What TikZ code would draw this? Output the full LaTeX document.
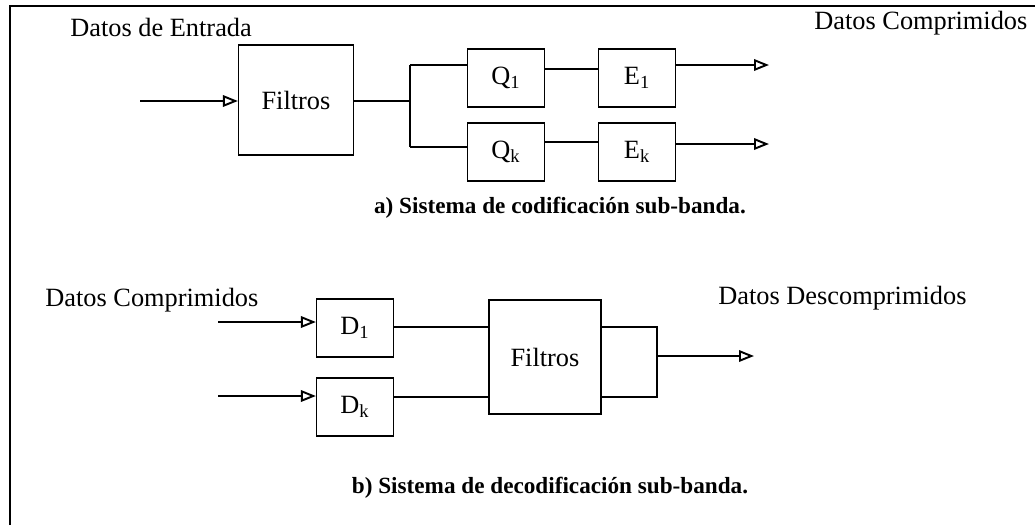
\documentclass[tikz,border=0pt]{standalone}
\usepackage{fontspec}
\setmainfont{Liberation Serif}
\usepackage{tikz}
\usetikzlibrary{arrows.meta, positioning, calc}

\begin{document}
\begin{tikzpicture}[
    x=0.02cm, y=-0.02cm,
    box/.style={rectangle, draw, line width=0.7pt, align=center, font=\fontsize{15}{18}\selectfont, minimum width=1.54cm, minimum height=1.16cm, inner sep=0pt},
    bigbox/.style={box, minimum width=2.3cm, minimum height=2.2cm},
    label/.style={inner sep=0pt, anchor=west, font=\fontsize{15}{18}\selectfont},
    caption/.style={inner sep=0pt, font=\fontsize{13.2}{16}\selectfont\bfseries},
    line/.style={line width=0.7pt},
    arrow/.style={line width=0.7pt, -{Triangle[open, length=3mm, width=2.3mm, line width=1.1pt]}}
]
\useasboundingbox (0,0) rectangle (1035,525);
\draw[line] (10,525) -- (10,6) -- (1035,6);

% a) codificacion
\node[label] (inA) at (70,27) {Datos de Entrada};
\node[label] (outA) at (814,23) {Datos Comprimidos};
\node[bigbox] (filtA) at (296,100) {Filtros};
\node[box] (q1) at (506,78) {Q\textsubscript{1}};
\node[box] (qk) at (506,152) {Q\textsubscript{k}};
\node[box] (e1) at (637,78) {E\textsubscript{1}};
\node[box] (ek) at (637,152) {E\textsubscript{k}};
\coordinate (srcA) at (140,101);
\coordinate (brA) at (410,101);
\coordinate (endA1) at (769,65);
\coordinate (endAk) at (769,144);
\node[caption] (capA) at (560,208) {a) Sistema de codificación sub-banda.};

\draw[arrow] (srcA) -- (srcA -| filtA.west);
\draw[line] (filtA.east |- brA) -- (brA);
\draw[line] (brA |- 0,65) -- (brA |- 0,147);
\draw[line] (brA |- 0,65) -- (q1.west |- 0,65);
\draw[line] (brA |- 0,147) -- (qk.west |- 0,147);
\draw[line] (q1.east |- 0,69) -- (e1.west |- 0,69);
\draw[line] (qk.east |- 0,142) -- (ek.west |- 0,142);
\draw[arrow] (e1.east |- endA1) -- (endA1);
\draw[arrow] (ek.east |- endAk) -- (endAk);

% b) decodificacion
\node[label] (inB) at (45,300) {Datos Comprimidos};
\node[label] (outB) at (718,298) {Datos Descomprimidos};
\node[box] (d1) at (355,328) {D\textsubscript{1}};
\node[box] (dk) at (355,407) {D\textsubscript{k}};
\node[bigbox, minimum width=2.24cm, minimum height=2.28cm] (filtB) at (545,357) {Filtros};
\coordinate (src1) at (218,322);
\coordinate (srck) at (218,396);
\coordinate (brB) at (657,356);
\coordinate (endB) at (754,356);
\node[caption] (capB) at (550,488) {b) Sistema de decodificación sub-banda.};

\draw[arrow] (src1) -- (src1 -| d1.west);
\draw[arrow] (srck) -- (srck -| dk.west);
\draw[line] (d1.east |- 0,327) -- (filtB.west |- 0,327);
\draw[line] (dk.east |- 0,397) -- (filtB.west |- 0,397);
\draw[line] (filtB.east |- 0,327) -| (brB |- 0,397) -- (filtB.east |- 0,397);
\draw[arrow] (brB) -- (endB);
\end{tikzpicture}
\end{document}
